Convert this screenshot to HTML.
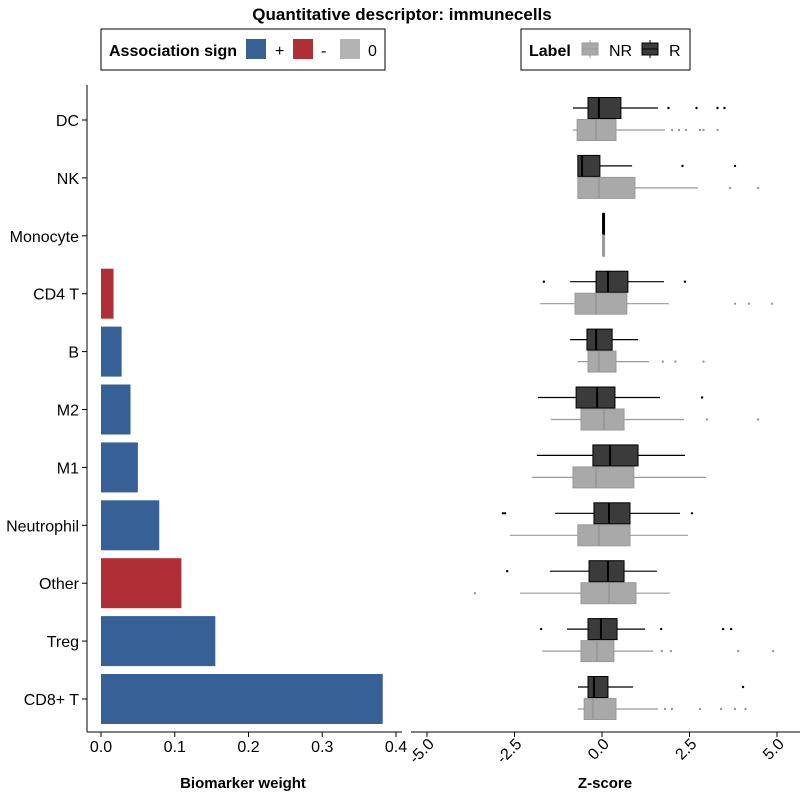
<!DOCTYPE html>
<html><head><meta charset="utf-8"><style>
body{margin:0;background:#fff}
svg text{font-family:"Liberation Sans",Arial,sans-serif}
</style></head><body>
<svg id="chart" width="800" height="800" xmlns="http://www.w3.org/2000/svg">
<text x="402" y="20" text-anchor="middle" font-size="17" font-weight="bold">Quantitative descriptor: immunecells</text>
<g>
<rect x="101" y="29" width="284" height="41" fill="#fff" stroke="#000" stroke-width="1"/>
<text x="109" y="56" font-size="16" font-weight="bold">Association sign</text>
<rect x="246" y="39" width="20" height="20" fill="#366096"/><text x="275" y="56" font-size="16">+</text>
<rect x="293" y="39" width="20" height="20" fill="#b02f36"/><text x="321" y="56" font-size="16">-</text>
<rect x="340" y="39" width="20" height="20" fill="#b3b3b3"/><text x="368" y="56" font-size="16">0</text>
</g>
<g>
<rect x="521" y="29" width="169" height="41" fill="#fff" stroke="#000" stroke-width="1"/>
<text x="529" y="56" font-size="16" font-weight="bold">Label</text>
<line x1="590" y1="40" x2="590" y2="58" stroke="#999"/><rect x="582" y="43" width="16" height="12" fill="#a9a9a9" stroke="#999"/><line x1="582" y1="49" x2="598" y2="49" stroke="#999"/>
<text x="609" y="56" font-size="16">NR</text>
<line x1="650" y1="40" x2="650" y2="58" stroke="#000"/><rect x="642" y="43" width="16" height="12" fill="#3b3b3b" stroke="#000"/><line x1="642" y1="49" x2="658" y2="49" stroke="#000"/>
<text x="669" y="56" font-size="16">R</text>
</g>
<g id="left"></g><g id="right"></g>
<text x="243" y="788" text-anchor="middle" font-size="15" font-weight="bold">Biomarker weight</text>
<text x="605" y="788" text-anchor="middle" font-size="15" font-weight="bold">Z-score</text>
</svg>
<script>
const categories=["DC","NK","Monocyte","CD4 T","B","M2","M1","Neutrophil","Other","Treg","CD8+ T"];
const weights=[0,0,0,0.017,0.028,0.040,0.050,0.079,0.109,0.155,0.382];
const signs=["0","0","0","-","+","+","+","+","-","+","+"];
const weightTicks=[0,0.1,0.2,0.3,0.4];
const weightTickLabels=["0.0","0.1","0.2","0.3","0.4"];
// box stats [whiskerLow, q1, median, q3, whiskerHigh]
const statsR=[[-0.83,-0.4,-0.09,0.54,1.6],[-0.69,-0.69,-0.57,-0.06,0.86],[0.03,0.03,0.03,0.03,0.03],[-0.91,-0.17,0.17,0.74,1.77],[-0.91,-0.43,-0.17,0.29,1.03],[-1.83,-0.74,-0.14,0.37,1.66],[-1.86,-0.26,0.23,1.03,2.37],[-1.34,-0.23,0.2,0.8,2.23],[-1.49,-0.37,0.17,0.63,1.57],[-1.0,-0.4,-0.03,0.43,1.23],[-0.69,-0.4,-0.23,0.17,0.89]];
const statsNR=[[-0.83,-0.71,-0.17,0.4,1.8],[-0.69,-0.69,-0.09,0.94,2.74],[0.03,0.03,0.03,0.03,0.03],[-1.77,-0.77,-0.17,0.71,1.91],[-0.69,-0.4,-0.09,0.4,1.34],[-1.46,-0.6,0.06,0.63,2.34],[-2.0,-0.83,-0.17,0.91,2.97],[-2.63,-0.69,-0.09,0.8,2.46],[-2.34,-0.6,0.2,0.97,1.94],[-1.71,-0.6,-0.14,0.34,1.46],[-0.69,-0.51,-0.26,0.4,1.6]];
const outliersR=[[1.9,2.7,3.3,3.5],[2.3,3.8],[],[-1.66,2.37],[],[2.86],[],[-2.83,-2.77,2.57],[-2.71],[-1.74,1.69,3.46,3.69],[4.03]];
const outliersNR=[[2.0,2.2,2.4,2.8,2.9,3.3],[3.66,4.46],[],[3.8,4.2,4.86],[1.74,2.1,2.9],[3.0,4.46],[],[],[-3.63],[1.71,1.97,3.89,4.89],[1.8,2.0,2.8,3.4,3.8,4.1]];
const zTicks=[-5,-2.5,0,2.5,5];
const zTickLabels=["-5.0","-2.5","0.0","2.5","5.0"];
const NS="http://www.w3.org/2000/svg";
function mk(p,t,a){const e=document.createElementNS(NS,t);for(const k in a)e.setAttribute(k,a[k]);p.appendChild(e);return e;}
const yC=i=>120+i*57.9;
const xW=v=>101+v*737.5;
const xZ=v=>602+v*35;
const L=document.getElementById('left'),R=document.getElementById('right');
let ax=mk(L,'line',{x1:87,y1:85,x2:87,y2:732,stroke:'#000'});


let xa=mk(L,'line',{x1:87,y1:732,x2:402,y2:732,stroke:'#000'});


const col={"+":"#366096","-":"#b02f36","0":"#b3b3b3"};
categories.forEach((c,i)=>{
  const y=yC(i);
  mk(L,'line',{x1:82,y1:y,x2:87,y2:y,stroke:'#000'});
  const t=mk(L,'text',{x:79,y:y+6,'text-anchor':'end','font-size':16});t.textContent=c;
  
  
  if(weights[i]>0){
    const b=mk(L,'rect',{x:xW(0),y:y-25,width:xW(weights[i])-xW(0),height:50,fill:col[signs[i]]});
    
    
  }
});
weightTicks.forEach((v,i)=>{
  mk(L,'line',{x1:xW(v),y1:732,x2:xW(v),y2:737,stroke:'#000'});
  const t=mk(L,'text',{x:xW(v),y:752,'text-anchor':'middle','font-size':16});t.textContent=weightTickLabels[i];
  
  
});
let za=mk(R,'line',{x1:411,y1:732,x2:800,y2:732,stroke:'#000'});


zTicks.forEach((v,i)=>{
  const x=xZ(v);
  mk(R,'line',{x1:x,y1:732,x2:x,y2:737,stroke:'#000'});
  const t=mk(R,'text',{x:x+8,y:745,'text-anchor':'end','font-size':16,transform:`rotate(-45 ${x+8} 745)`});t.textContent=zTickLabels[i];
  
  
});
function box(s,cy,fill,stroke,name,outs){
  const g=mk(R,'g',{});
  
  
  mk(g,'line',{x1:xZ(s[0]),y1:cy,x2:xZ(s[4]),y2:cy,stroke:stroke,'stroke-width':1.2});
  const w=Math.max(1.5,xZ(s[3])-xZ(s[1]));
  mk(g,'rect',{x:xZ(s[1]),y:cy-10.5,width:w,height:21,fill:fill,stroke:stroke,'stroke-width':1});
  mk(g,'line',{x1:xZ(s[2]),y1:cy-10.5,x2:xZ(s[2]),y2:cy+10.5,stroke:stroke,'stroke-width':2});
  outs.forEach(o=>mk(g,'circle',{cx:xZ(o),cy:cy,r:1.2,fill:stroke}));
}
categories.forEach((c,i)=>{
  const y=yC(i);
  const n=c.toLowerCase().replace(/[^a-z0-9]+/g,'-');
  box(statsNR[i],y+10,'#a9a9a9','#999999','box-nr-'+n,outliersNR[i]);
  box(statsR[i],y-12,'#3b3b3b','#000000','box-r-'+n,outliersR[i]);
});
</script>
</body></html>
